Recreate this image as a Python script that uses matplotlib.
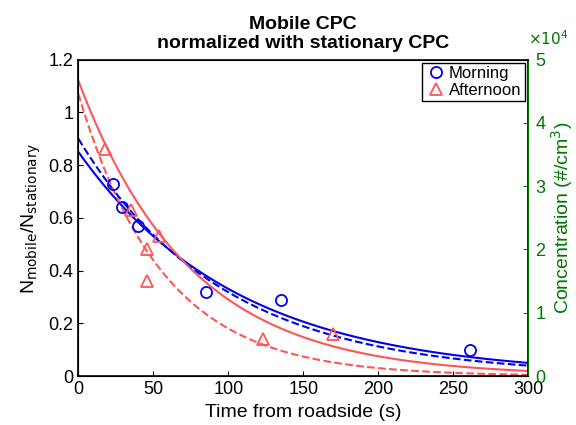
import numpy as np
import matplotlib
matplotlib.use("Agg")
import matplotlib.pyplot as plt
plt.rcParams['font.family'] = ['Liberation Sans', 'DejaVu Sans']

morning_t = [23, 29, 40, 85, 135, 261]
morning_n = [0.73, 0.64, 0.57, 0.32, 0.29, 0.10]
afternoon_t = [18, 35, 46, 46, 54, 123, 170]
afternoon_n = [0.86, 0.63, 0.48, 0.36, 0.53, 0.14, 0.16]
# exponential fits a*exp(-k t)
blue_solid = (0.85, 0.00944)
blue_dash = (0.90, 0.0104)
red_solid = (1.12, 0.0135)
red_dash = (1.07, 0.0178)

blue = '#0000ee'
red = '#ff5555'
green = '#007700'

fig = plt.figure(figsize=(5.76, 4.25), dpi=100)
ax = fig.add_axes([0.136, 0.115, 0.781, 0.745])
t = np.linspace(0, 300, 400)
ax.plot(t, blue_solid[0]*np.exp(-blue_solid[1]*t), color=blue, lw=1.5)
ax.plot(t, blue_dash[0]*np.exp(-blue_dash[1]*t), color=blue, lw=1.5, ls='--')
ax.plot(t, red_solid[0]*np.exp(-red_solid[1]*t), color=red, lw=1.5)
ax.plot(t, red_dash[0]*np.exp(-red_dash[1]*t), color=red, lw=1.5, ls='--')
ax.plot(morning_t, morning_n, 'o', mfc='none', mec=blue, ms=8, mew=1.3, label='Morning')
ax.plot(afternoon_t, afternoon_n, '^', mfc='none', mec=red, ms=9, mew=1.3, label='Afternoon')
ax.set_xlim(0, 300)
ax.set_ylim(0, 1.2)
ax.set_xticks(np.arange(0, 301, 50))
ax.set_yticks(np.arange(0, 1.21, 0.2))
ax.set_yticklabels(['0', '0.2', '0.4', '0.6', '0.8', '1', '1.2'])
ax.tick_params(labelsize=13, direction='in', top=False)
ax.set_xlabel('Time from roadside (s)', fontsize=14)
ax.set_ylabel(r'N$_{\mathrm{mobile}}$/N$_{\mathrm{stationary}}$', fontsize=14)
ax.set_title('Mobile CPC\nnormalized with stationary CPC', fontsize=14, fontweight='bold', pad=8)
for s in ax.spines.values():
    s.set_linewidth(1.2)
leg = ax.legend(loc='upper right', fontsize=12, handletextpad=0.2, borderpad=0.2,
                labelspacing=0.1, fancybox=False, framealpha=1, handlelength=1.2,
                borderaxespad=0.2)
leg.get_frame().set_edgecolor('black')
ax2 = ax.twinx()
ax2.set_ylim(0, 5e4)
ax2.set_yticks(np.arange(0, 5.01e4, 1e4))
ax2.set_yticklabels(['0', '1', '2', '3', '4', '5'])
ax2.tick_params(labelsize=13, colors=green, direction='in', pad=5)
ax2.spines['right'].set_color(green)
ax2.set_ylabel(r'Concentration (#/cm$^3$)', fontsize=14, color=green, labelpad=3)
ax2.text(1.0, 1.035, r'$\times10^4$', transform=ax2.transAxes, color=green, fontsize=11, va='bottom')
fig.savefig('out.png', dpi=100)
